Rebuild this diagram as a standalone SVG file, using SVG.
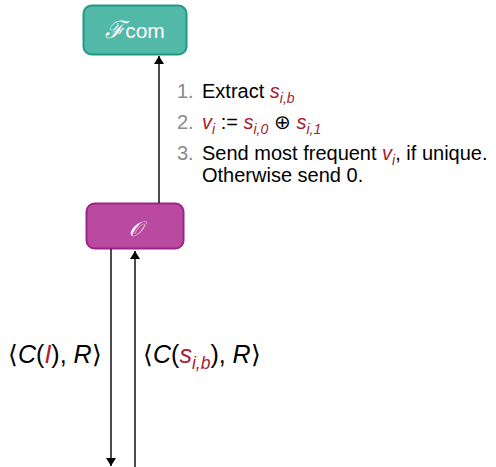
<svg xmlns="http://www.w3.org/2000/svg" width="496" height="467" viewBox="0 0 496 467">
  <style>
    .txt { font-family: "Liberation Sans", Arial, sans-serif; font-size: 20px; fill: #000; }
    .num { fill: #8a8a8a; }
    .var { fill: #a8202f; font-style: italic; }
    .it { font-style: italic; }
    .sub { font-size: 14px; }
    .lbl { font-family: "Liberation Sans", Arial, sans-serif; font-size: 25px; fill: #000; }
    .lbl .sub { font-size: 17.5px; }
    .wire { stroke: #000; stroke-width: 1.4; fill: none; }
    .node-label { font-family: "Liberation Sans", Arial, sans-serif; fill: #fff; font-size: 21px; }
  </style>
  <defs>
    <marker id="arrow" viewBox="0 0 8 10" refX="8" refY="5" markerWidth="8" markerHeight="10" markerUnits="userSpaceOnUse" orient="auto">
      <path d="M0,0 L8,5 L0,10 Z" fill="#000"/>
    </marker>
  </defs>

  <!-- functionality node -->
  <g id="fcom">
    <rect x="83.5" y="5.5" width="103" height="49" rx="8" fill="#52b8a8" stroke="#1f9a86" stroke-width="2"/>
    <text class="node-label" x="135" y="38" text-anchor="middle"><tspan font-family="DejaVu Serif, serif" font-style="italic" font-size="24">ℱ</tspan><tspan>com</tspan></text>
  </g>

  <!-- oracle node -->
  <g id="oracle">
    <rect x="86.5" y="203.5" width="97" height="45" rx="8" fill="#b94a9f" stroke="#9e2587" stroke-width="2"/>
    <text class="node-label" x="135" y="236" text-anchor="middle" font-family="DejaVu Serif, serif" font-style="italic" font-size="36">𝒪</text>
  </g>

  <!-- connectors -->
  <g id="connectors">
    <line class="wire" x1="159" y1="203" x2="159" y2="56" marker-end="url(#arrow)"/>
    <line class="wire" x1="111" y1="249" x2="111" y2="466" marker-end="url(#arrow)"/>
    <line class="wire" x1="135" y1="467" x2="135" y2="251" marker-end="url(#arrow)"/>
  </g>

  <!-- steps of the oracle -->
  <g id="steps">
    <text class="txt" x="177" y="98"><tspan class="num">1.</tspan></text>
    <text class="txt" x="202" y="98">Extract <tspan class="var">s</tspan><tspan class="var sub" dy="5">i,b</tspan></text>

    <text class="txt" x="177" y="129"><tspan class="num">2.</tspan></text>
    <text class="txt" x="202" y="129"><tspan class="var">v</tspan><tspan class="var sub" dy="5">i</tspan><tspan dy="-5"> := </tspan><tspan class="var">s</tspan><tspan class="var sub" dy="5">i,0</tspan><tspan dy="-5"> ⊕ </tspan><tspan class="var">s</tspan><tspan class="var sub" dy="5">i,1</tspan></text>

    <text class="txt" x="177" y="160"><tspan class="num">3.</tspan></text>
    <text class="txt" x="202" y="160">Send most frequent <tspan class="var">v</tspan><tspan class="var sub" dy="5">i</tspan><tspan dy="-5">, if unique.</tspan></text>
    <text class="txt" x="202" y="182">Otherwise send 0.</text>
  </g>

  <!-- wire labels -->
  <g id="labels">
    <text class="lbl" x="8" y="363">⟨<tspan class="it">C</tspan>(<tspan class="var">I</tspan>), <tspan class="it">R</tspan>⟩</text>
    <text class="lbl" x="143" y="363">⟨<tspan class="it">C</tspan>(<tspan class="var">s</tspan><tspan class="var sub" dy="6">i,b</tspan><tspan dy="-6">), </tspan><tspan class="it">R</tspan>⟩</text>
  </g>
</svg>
